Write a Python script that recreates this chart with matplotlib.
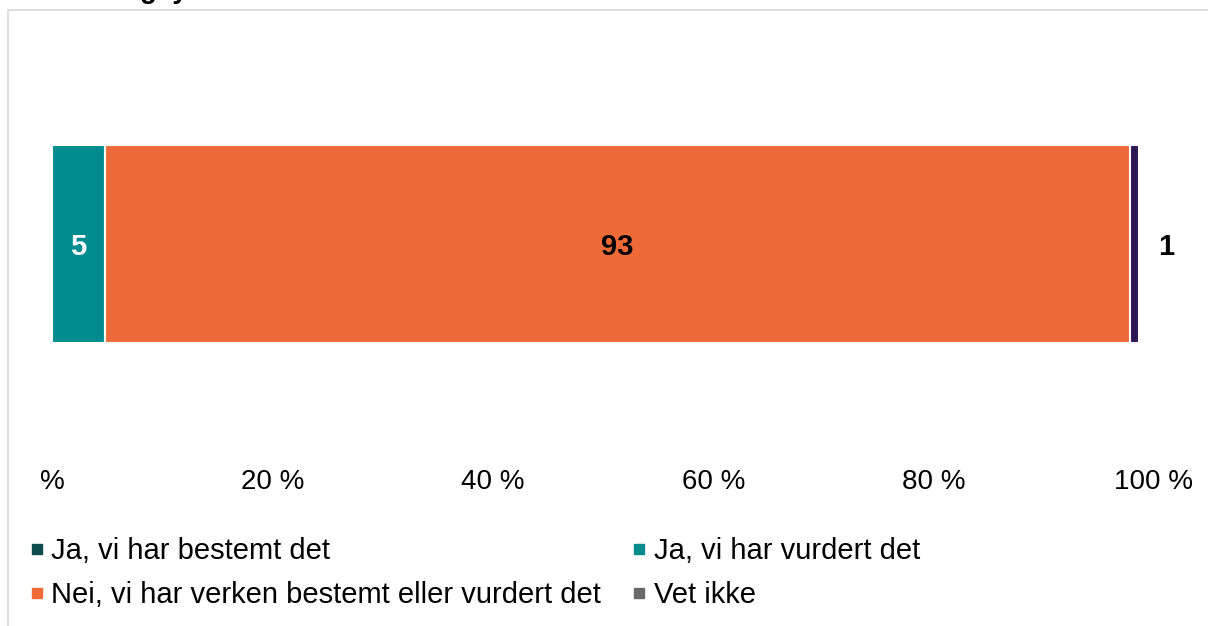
import matplotlib.pyplot as plt
from matplotlib.lines import Line2D
from matplotlib.patches import Rectangle

plt.rcParams['font.family'] = ['Liberation Sans', 'DejaVu Sans']

# data
categories = ['Ja, vi har bestemt det', 'Ja, vi har vurdert det',
              'Nei, vi har verken bestemt eller vurdert det', 'Vet ikke']
values = [0.0, 4.8, 93.0, 0.8]
labels = ['', '5', '93', '1']
colors = ['#0d4a4a', '#008b8f', '#ee6a39', '#2b1653']
legend_colors = ['#0d4a4a', '#008b8f', '#ee6a39', '#696969']
label_colors = ['white', 'white', 'black', 'black']
ticks = [0, 20, 40, 60, 80, 100]
tick_labels = ['%', '20 %', '40 %', '60 %', '80 %', '100 %']

fig = plt.figure(figsize=(12.08, 6.26), dpi=100)
ax = fig.add_axes([52 / 1208, 1 - 448 / 626, (1154 - 52) / 1208, 408 / 626])

left = 0
for val, col, lab, lc in zip(values, colors, labels, label_colors):
    if val > 0:
        ax.barh(0, val, left=left, height=0.97, color=col,
                edgecolor='white', linewidth=1.5)
        if lab:
            # small segments get their label outside the bar
            xpos = left + val + 2.5 if val < 2 else left + val / 2
            ax.text(xpos, -0.015, lab, ha='center', va='center',
                    fontsize=21, fontweight='bold', color=lc)
    left += val

ax.set_xlim(0, 100)
ax.set_ylim(-1, 1)
ax.set_xticks(ticks)
ax.set_xticklabels(tick_labels, fontsize=20)
ax.set_yticks([])
ax.tick_params(axis='x', length=0, pad=15)
for s in ax.spines.values():
    s.set_visible(False)

# legend
handles = [Line2D([], [], marker='s', linestyle='none', markersize=7,
                  markerfacecolor=c, markeredgecolor=c) for c in legend_colors]
order = [0, 2, 1, 3]
fig.legend([handles[i] for i in order], [categories[i] for i in order],
           loc='upper left', bbox_to_anchor=(31 / 1208, 1 - 537 / 626),
           ncol=2, frameon=False, fontsize=21, handlelength=0.4,
           handletextpad=0.3, columnspacing=1.1, labelspacing=0.55,
           borderaxespad=0, borderpad=0)

# chart frame (cut off by the image edges)
fig.add_artist(Rectangle((8 / 1208, -0.1), 1.2, 1.1 - 10 / 626,
                         transform=fig.transFigure, fill=False,
                         edgecolor='#d9d9d9', linewidth=1.2))

# title, cut off at the top of the image
fig.text(140 / 1208, 1.0 + 1.5 / 626, 'g  y', fontsize=20, fontweight='bold',
         ha='left', va='baseline')

fig.savefig('out.png', dpi=100)
